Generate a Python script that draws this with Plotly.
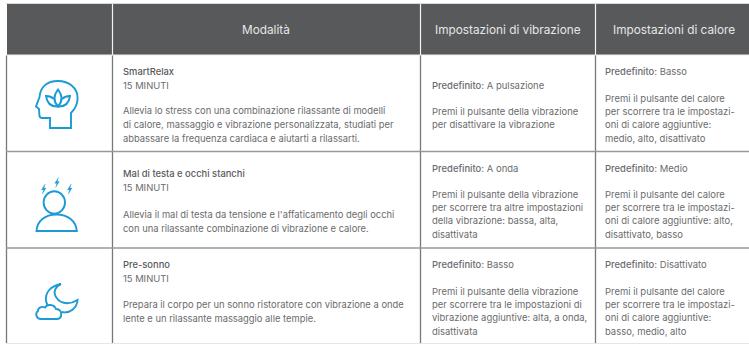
import plotly.graph_objects as go

headers = ["Modalità", "Impostazioni di vibrazione", "Impostazioni di calore"]

mode_titles = ["SmartRelax", "Mal di testa e occhi stanchi", "Pre-sonno"]
mode_duration = ["15 MINUTI", "15 MINUTI", "15 MINUTI"]
mode_desc = [
    ["Allevia lo stress con una combinazione rilassante di modelli",
     "di calore, massaggio e vibrazione personalizzata, studiati per",
     "abbassare la frequenza cardiaca e aiutarti a rilassarti."],
    ["Allevia il mal di testa da tensione e l'affaticamento degli occhi",
     "con una rilassante combinazione di vibrazione e calore."],
    ["Prepara il corpo per un sonno ristoratore con vibrazione a onde",
     "lente e un rilassante massaggio alle tempie."],
]
vib_default = ["A pulsazione", "A onda", "Basso"]
vib_desc = [
    ["Premi il pulsante della vibrazione", "per disattivare la vibrazione"],
    ["Premi il pulsante della vibrazione", "per scorrere tra altre impostazioni",
     "della vibrazione: bassa, alta,", "disattivata"],
    ["Premi il pulsante della vibrazione", "per scorrere tra le impostazioni di",
     "vibrazione aggiuntive: alta, a onda,", "disattivata"],
]
heat_default = ["Basso", "Medio", "Disattivato"]
heat_desc = [
    ["Premi il pulsante del calore", "per scorrere tra le impostazi-",
     "oni di calore aggiuntive:", "medio, alto, disattivato"],
    ["Premi il pulsante del calore", "per scorrere tra le impostazi-",
     "oni di calore aggiuntive: alto,", "disattivato, basso"],
    ["Premi il pulsante del calore", "per scorrere tra le impostazi-",
     "oni di calore aggiuntive:", "basso, medio, alto"],
]

# layout (pixel canvas)
W, H = 749, 344
FONT = "Inter"
BODY = "#6a6b6d"
TITLE = "#58595b"
HEAD_BG = "#58595b"
BLUE = "#1b9ad6"
col_x = [6.5, 112.5, 420.5, 595.5]
text_x = [121, 429.5, 603]
header_cx = [266, 507.5, 673.5]
row_y = [55, 151.5, 248, 343]
mode_y0 = [71, 173.5, 264]
mode_desc_y0 = [110, 214, 304]
vib_y0 = [85, 168, 264]
vib_desc_y0 = [111, 194, 291]
heat_y0 = [71, 168, 264]
heat_desc_y0 = [98, 194, 291]
LH = 13.4
FS_MODE = 9.4
FS = 9.45

fig = go.Figure()
shapes, ann = [], []


def txt(x, y, s, size=FS, color=BODY, anchor="left"):
    ann.append(dict(x=x, y=y, xref="x", yref="y", text=s, showarrow=False,
                    xanchor=anchor, yanchor="middle",
                    font=dict(family=FONT, size=size, color=color)))


def path(d, fill="rgba(0,0,0,0)", width=1.9):
    shapes.append(dict(type="path", xref="x", yref="y", path=d, fillcolor=fill,
                       line=dict(color=BLUE, width=width)))


def line(x0, y0, x1, y1, color, width):
    shapes.append(dict(type="line", xref="x", yref="y", x0=x0, y0=y0, x1=x1, y1=y1,
                       line=dict(color=color, width=width)))


def medium(s):
    return f'<span style="font-weight:500">{s}</span>'


# header
shapes.append(dict(type="rect", xref="x", yref="y", x0=7, y0=4, x1=W, y1=55,
                   fillcolor=HEAD_BG, line=dict(width=0)))
line(6, 3.5, W, 3.5, "#d8d8d8", 1)
for x in col_x[1:]:
    line(x, 4, x, 55, "#f2f2f2", 1.2)
line(7, 55, W, 55, "#f0f0f0", 1.2)
for cx, h in zip(header_cx, headers):
    txt(cx, 29.5, h, size=11.8, color="#e6e6e6", anchor="center")

# grid
for x in col_x:
    line(x, 55.5, x, 343, "#77787a", 1.3)
for y in row_y[1:3]:
    line(6, y, W, y, "#98999b", 1.6)
line(6, 343.5, W, 343.5, "#e6e6e6", 1)

# body text
for i in range(3):
    txt(text_x[0], mode_y0[i], medium(mode_titles[i]), color=TITLE, size=FS_MODE)
    txt(text_x[0], mode_y0[i] + 14, mode_duration[i], size=FS_MODE)
    for j, s in enumerate(mode_desc[i]):
        txt(text_x[0], mode_desc_y0[i] + j * 14, s, size=FS_MODE)
    txt(text_x[1], vib_y0[i], medium("Predefinito:") + " " + vib_default[i])
    for j, s in enumerate(vib_desc[i]):
        txt(text_x[1], vib_desc_y0[i] + j * LH, s)
    txt(text_x[2], heat_y0[i], medium("Predefinito:") + " " + heat_default[i])
    for j, s in enumerate(heat_desc[i]):
        txt(text_x[2], heat_desc_y0[i] + j * LH, s)

# icon: head with lotus
path("M71 128 L71 113 C75 109 77.6 104 77.6 98 C77.6 88 69 81 58 81 C47 81 40.5 87 39.5 97 "
     "L36 106.5 L39 109 L39.5 116 Q40 118 42 118 L50 118 L50 128 Z")
path("M58 106.5 C53 101 53 96 58 89.5 C63 96 63 101 58 106.5 Z")
path("M58 106.5 C50 107 47 103 46 96 C49 96 52 97 54 99")
path("M58 106.5 C66 107 69 103 70 96 C67 96 64 97 62 99")

# icon: person with bolts
path("M65 202.5 C65 208.7 60.2 213.7 54.3 213.7 C48.4 213.7 43.6 208.7 43.6 202.5 "
     "C43.6 196.3 48.4 191.3 54.3 191.3 C60.2 191.3 65 196.3 65 202.5 Z")
path("M36.5 231 C37 221 45 214.5 56.5 214.5 C68 214.5 76 221 76.8 231 Z")
for bx, by in [(43.7, 189), (57, 182.5), (69.7, 189)]:
    path(f"M{bx+1.5} {by-5} L{bx-2.3} {by+0.8} L{bx-0.2} {by+0.8} L{bx-1.3} {by+5} "
         f"L{bx+2.3} {by-1} L{bx+0.2} {by-1} Z", fill=BLUE, width=0.3)

# icon: moon and cloud
path("M61 284 C50 286 45 293 46 301 C46.5 303 47 304 48 306 M61.5 312 C70 314 77 308 77.5 300 "
     "C68 306 58 303 55 295 C53.5 291 56 286 61 284")
path("M41 319 C36 319 35 313 38 311 C38 307.5 42 306 45 307.5 C47 304 54 304 56 309 "
     "C60 309 62 312 61 316 C60.5 318 59 319 57 319 Z", fill="white")

fig.update_layout(
    width=W, height=H, autosize=False,
    margin=dict(l=0, r=0, t=0, b=0),
    paper_bgcolor="white", plot_bgcolor="white",
    xaxis=dict(range=[0, W], visible=False, fixedrange=True),
    yaxis=dict(range=[H, 0], visible=False, fixedrange=True),
    shapes=shapes, annotations=ann, showlegend=False,
)
fig.write_html("out.html", config=dict(displayModeBar=False),
               include_plotlyjs=True, default_width=W, default_height=H,
               full_html=True,
               post_script="document.body.style.margin='0';document.documentElement.style.overflow='hidden';")
